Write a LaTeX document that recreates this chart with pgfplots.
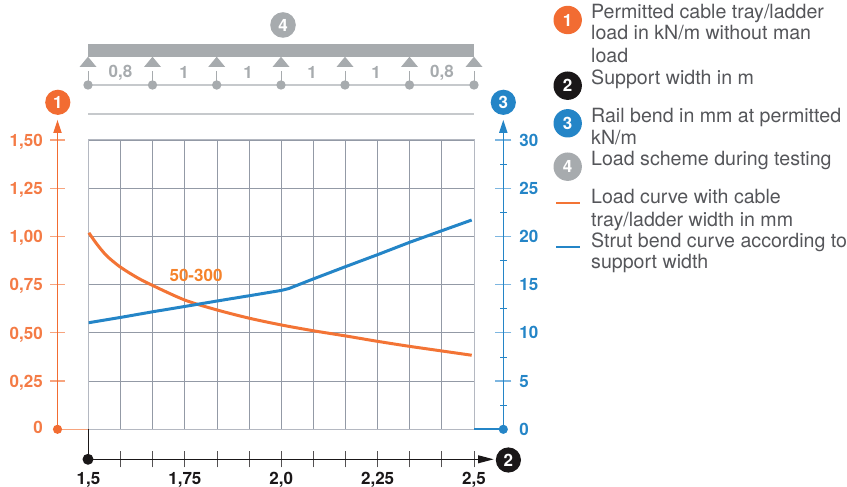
\documentclass[border=0pt]{standalone}
\usepackage{fontspec}
\setmainfont{TeX Gyre Heros}
\usepackage{pgfplots}
\pgfplotsset{compat=1.18}
\definecolor{corange}{HTML}{F26C32}
\definecolor{curveorange}{HTML}{F37435}
\definecolor{labelorange}{HTML}{F5822A}
\definecolor{torange}{HTML}{F47B45}
\definecolor{lorange}{HTML}{F7A47E}
\definecolor{cblue}{HTML}{2485C7}
\definecolor{lblue}{HTML}{7DB6E0}
\definecolor{cgray}{HTML}{A7ABAE}
\definecolor{lgray}{HTML}{C6C9CC}
\definecolor{cgrid}{HTML}{939AA6}
\definecolor{cblack}{HTML}{1A1718}
\definecolor{ctext}{HTML}{55565A}
\newcommand{\tickfont}{\bfseries\fontsize{17}{19}\selectfont}
\newcommand{\legfont}{\fontsize{19.6}{22}\selectfont}
\begin{document}
\begin{tikzpicture}[x=1pt,y=1pt]
\path[use as bounding box] (0,0) rectangle (847,487);
% main axis: grid and load curve
\begin{axis}[
  at={(88.5pt,57.7pt)}, anchor=south west, scale only axis,
  width=385.5pt, height=289.3pt,
  xmin=1.5, xmax=2.5, ymin=0, ymax=1.5,
  xtick={1.5,1.58333,1.66667,1.75,1.83333,1.91667,2,2.08333,2.16667,2.25,2.33333,2.41667,2.5},
  ytick={0,0.25,0.5,0.75,1,1.25,1.5},
  xticklabels={}, yticklabels={},
  major tick length=0pt,
  grid=major,
  grid style={cgrid,line width=0.9pt},
  axis line style={cgrid!70,line width=1pt},
  clip=false]
\addplot[curveorange,line width=3pt,smooth,tension=0.5] coordinates {
 (1.501,1.019)(1.521,0.962)(1.547,0.900)(1.582,0.842)(1.625,0.788)(1.664,0.748)(1.75,0.670)(1.833,0.619)(1.917,0.576)
 (2.0,0.541)(2.083,0.511)(2.167,0.484)(2.25,0.456)(2.333,0.430)(2.417,0.406)(2.494,0.384)};
\node[text=labelorange,font=\tickfont] at (axis cs:1.779,0.798) {50-300};
\end{axis}
% bend curve
\begin{axis}[
  at={(88.5pt,57.7pt)}, anchor=south west, scale only axis,
  width=385.5pt, height=289.3pt,
  xmin=1.5, xmax=2.5, ymin=0, ymax=30,
  hide axis]
\addplot[cblue,line width=3pt] coordinates {
 (1.5,11.05)(1.583,11.6)(1.667,12.19)(1.75,12.74)(1.833,13.3)(1.917,13.85)
 (2.0,14.4)(2.02,14.6)(2.083,15.59)(2.167,16.87)(2.25,18.11)(2.333,19.39)(2.417,20.6)(2.494,21.7)};
\end{axis}
% left scale
\begin{axis}[
  at={(57.5pt,57.7pt)}, anchor=south west, scale only axis,
  width=1pt, height=289.3pt,
  xmin=0, xmax=1, ymin=0, ymax=1.5,
  axis y line=left, axis x line=none,
  axis line style={-,corange,line width=1pt},
  tick align=center, major tick length=15pt,
  major tick style={lorange,line width=1.2pt},
  ytick={0.25,0.5,0.75,1,1.25,1.5},
  yticklabels={{0,25},{0,50},{0,75},{1,00},{1,25},{1,50}},
  extra y ticks={0},
  extra y tick labels={0},
  extra y tick style={major tick style={draw=none},yticklabel style={yshift=3pt}},
  yticklabel style={text=torange,font=\tickfont,inner sep=0pt,xshift=-7pt,yshift=-1.5pt},
  tick label style={text=torange}]
\end{axis}
% right scale
\begin{axis}[
  at={(502.3pt,57.7pt)}, anchor=south west, scale only axis,
  width=1pt, height=289.3pt,
  xmin=0, xmax=1, ymin=0, ymax=30,
  axis y line=right, axis x line=none,
  axis line style={-,cblue,line width=1pt},
  tick align=center, major tick length=16pt, minor tick length=7pt,
  major tick style={lblue,line width=1.2pt},
  minor tick style={cblue,line width=0.8pt},
  ytick={5,10,15,20,25,30},
  minor ytick={2.5,7.5,12.5,17.5,22.5,27.5},
  yticklabels={5,10,15,20,25,30},
  extra y ticks={0},
  extra y tick labels={0},
  extra y tick style={major tick style={draw=none}},
  yticklabel style={text=cblue,font=\tickfont,inner sep=0pt,xshift=8pt},
  tick label style={text=cblue}]
\end{axis}
% bottom scale
\begin{axis}[
  at={(88.5pt,27.7pt)}, anchor=south west, scale only axis,
  width=385.5pt, height=1pt,
  xmin=1.5, xmax=2.5, ymin=0, ymax=1,
  axis x line=bottom, axis y line=none,
  axis line style={-,cblack,line width=1pt},
  tick align=center, major tick length=16pt, minor tick length=16pt,
  tick style={cblack!75,line width=0.9pt},
  xtick={1.75,2,2.25,2.5},
  xticklabels={{1,75},{2,0},{2,25},{2,5}},
  minor xtick={1.58333,1.66667,1.83333,1.91667,2.08333,2.16667,2.33333,2.41667},
  extra x ticks={1.5},
  extra x tick labels={1{,}5},
  extra x tick style={major tick style={draw=none}},
  xticklabel style={text=cblack,font=\tickfont,inner sep=0pt,yshift=-4.5pt},
  tick label style={text=cblack}]
\end{axis}
% furniture, coordinates in reference pixels
\begin{scope}[shift={(0,487)},x=1pt,y=-1pt]
 \draw[lorange,line width=1.2pt] (57.5,429.3)--(88,429.3);
 \draw[cblue,line width=1.6pt] (474,429.3)--(503.3,429.3);
 \fill[corange] (57.5,429.3) circle (4.6);
 \fill[cblue] (503.3,429.3) circle (4.6);
 \draw[cblack,line width=1pt] (88,429.3)--(88,459.3);
 \fill[cblack] (88,459.3) circle (5.5);
 \draw[cblack,line width=1pt] (88,459.3)--(480,459.3);
 \fill[cblack] (493.6,459.3)--(478,455.2)--(478,463.4)--cycle;
 \draw[corange,line width=1pt] (57.5,141)--(57.5,128);
 \draw[cblue,line width=1pt] (503.3,141)--(503.3,128);
 \fill[corange] (57.5,120)--(53.2,133)--(61.8,133)--cycle;
 \fill[cblue] (503.3,120)--(499,133)--(507.6,133)--cycle;
 \fill[cgray] (88,44) rectangle (474,56.7);
 \draw[lgray,line width=1.2pt] (88,114)--(474,114);
 \draw[lgray,line width=1.2pt] (88,85)--(474,85);
 \foreach \x in {88,152.5,216.7,281,345,409.5,474}{
  \fill[cgray] (\x,56.7)--(\x-8.5,67)--(\x+8.5,67)--cycle;
  \draw[cgray,line width=0.8pt] (\x,71)--(\x,85);
  \fill[cgray] (\x,85) circle (4.7);
 }
 \foreach \x/\t in {120.5/{0,8},184/1,248/1,312/1,376/1,442/{0,8}}
  \node[text=cgray,font=\tickfont] at (\x,72.5) {\t};
 % badges
 \foreach \x/\y/\c/\t/\r/\f in {
   283/25/cgray/4/12.8/white,
   57.8/102.3/corange/1/12.6/white,
   503.3/102.3/cblue/3/12.6/white,
   508.4/460/cblack/2/12.6/white,
   567.7/20/corange/1/14.2/white,
   567.7/85.7/cblack/2/14.2/white,
   567.7/123.3/cblue/3/14.2/white,
   567.7/166.7/cgray/4/14.2/white}{
  \fill[\c] (\x,\y) circle (\r);
  \node[text=\f,font=\tickfont] at (\x,\y) {\t};
 }
 \draw[curveorange,line width=2.6pt] (556,203)--(580,203);
 \draw[cblue,line width=2.6pt] (556,247)--(580,247);
 \foreach \y/\t in {
   13/Permitted cable tray\slash ladder,
   34.5/load in kN\slash m without man,
   57.5/load,
   79.5/Support width in m,
   117.5/Rail bend in mm at permitted,
   139/kN\slash m,
   160/Load scheme during testing,
   198.5/Load curve with cable,
   221/tray\slash ladder width in mm,
   242.5/Strut bend curve according to,
   263.5/support width}
  \node[anchor=west,inner sep=0pt,text=ctext,font=\legfont] at (591,\y) {\vphantom{Ag}\t};
\end{scope}
\end{tikzpicture}
\end{document}
